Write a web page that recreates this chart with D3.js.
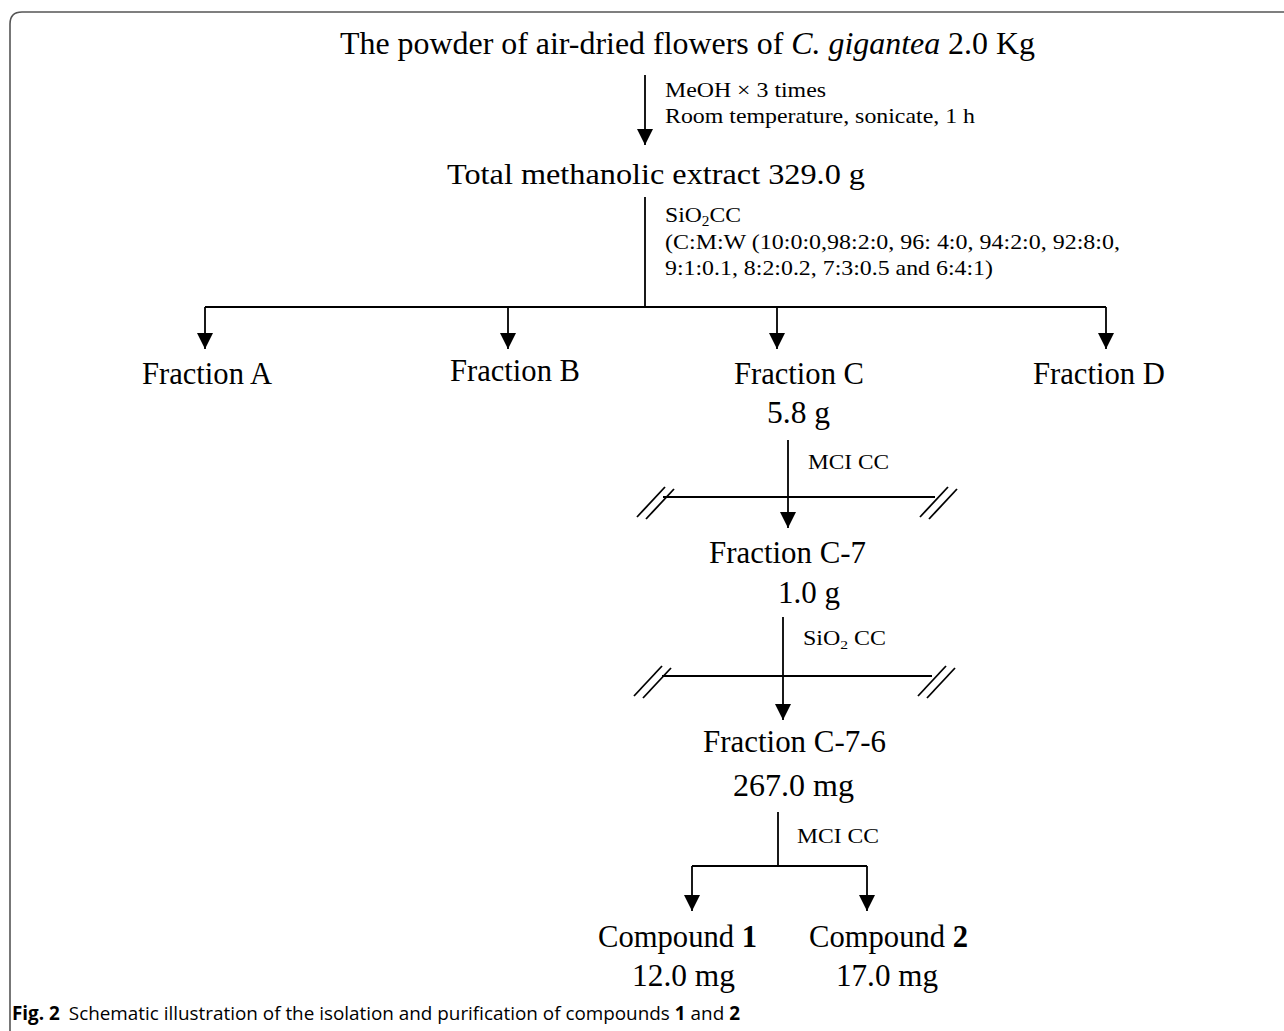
<!DOCTYPE html>
<html><head><meta charset="utf-8">
<script src="https://cdn.jsdelivr.net/npm/d3@7"></script>
<style>html,body{margin:0;padding:0;background:#fff;}</style>
</head><body>
<svg id="c" width="1284" height="1031"></svg>
<script>
// ---- content (labels) ----
const title = [{t:"The powder of air-dried flowers of "},{t:"C. gigantea",i:true},{t:" 2.0 Kg"}];
const step1 = ["MeOH × 3 times","Room temperature, sonicate, 1 h"];
const extract = "Total methanolic extract 329.0 g";
const step2 = ["SiO|2|CC","(C:M:W (10:0:0,98:2:0, 96: 4:0, 94:2:0, 92:8:0,","9:1:0.1, 8:2:0.2, 7:3:0.5 and 6:4:1)"];
const fractions = ["Fraction A","Fraction B","Fraction C","Fraction D"];
const fractionCMass = "5.8 g";
const step3 = "MCI CC";
const fracC7 = ["Fraction C-7","1.0 g"];
const step4 = "SiO|2| CC";
const fracC76 = ["Fraction C-7-6","267.0 mg"];
const step5 = "MCI CC";
const compounds = ["1","2"];
const compoundMass = ["12.0 mg","17.0 mg"];
const caption = [{t:"Fig. 2",b:true,gap:9},{t:"Schematic illustration of the isolation and purification of compounds",gap:5},{t:"1",b:true,gap:5},{t:"and",gap:5},{t:"2",b:true}];

// ---- layout ----
const svg = d3.select("#c");
const serif = "Liberation Serif, Tinos, Times New Roman, Times, serif";
const sans = "Open Sans, Noto Sans, sans-serif";

svg.append("defs").append("marker").attr("id","ah").attr("viewBox","0 0 10 10")
  .attr("refX",10).attr("refY",5).attr("markerWidth",16).attr("markerHeight",16)
  .attr("markerUnits","userSpaceOnUse").attr("orient","auto")
  .append("path").attr("d","M0,0L10,5L0,10Z").attr("fill","#000");

// frame
svg.append("path").attr("d","M10,1031 L10,24 Q10,12 22,12 L1284,12")
  .attr("fill","none").attr("stroke","#555").attr("stroke-width",1.6);

const line = d3.line();
function seg(pts, arrow){
  const p = svg.append("path").attr("d",line(pts)).attr("fill","none")
    .attr("stroke","#000").attr("stroke-width",1.8);
  if(arrow) p.attr("marker-end","url(#ah)");
  return p;
}
function text(x,y,size,len,parts,opts={}){
  const t = svg.append("text").attr("x",x).attr("y",y)
    .style("font-family",opts.family||serif).attr("font-size",size).attr("fill","#000");
  if(len){t.attr("textLength",len).attr("lengthAdjust","spacingAndGlyphs");}
  if(typeof parts==="string"){
    if(parts.includes("|")){
      const s = parts.split("|");
      t.append("tspan").text(s[0]);
      t.append("tspan").attr("font-size",size*0.65).attr("dy",size*0.2).text(s[1]);
      t.append("tspan").attr("dy",-size*0.2).text(s[2]);
    } else t.text(parts);
  } else {
    parts.forEach(p=>{
      const sp=t.append("tspan").text(p.t);
      if(p.i) sp.attr("font-style","italic");
      if(p.b) sp.attr("font-weight","bold");
    });
  }
  return t;
}
function slashes(x,y){
  seg([[x-16,y+20],[x+12,y-10]]);
  seg([[x-7,y+22],[x+21,y-8]]);
}

// title
text(340,54,31,695,title);
// step 1
seg([[645,75],[645,145]],true);
text(665,97,21,161,step1[0]);
text(665,123,21,310,step1[1]);
// extract
text(447,184,30,418,extract);
// step 2
seg([[645,197],[645,307]]);
text(665,222,22,76,step2[0]);
text(665,249,22,455,step2[1]);
text(665,275,22,328,step2[2]);
// branch to fractions
const fx = [205,508,777,1106];
seg([[fx[0],307],[fx[3],307]]);
fx.forEach(x=>seg([[x,307],[x,349]],true));
const fl = [[142,384,130],[450,381,130],[734,384,130],[1033,384,132]];
fractions.forEach((f,i)=>text(fl[i][0],fl[i][1],31,fl[i][2],f));
text(767,423,31,63,fractionCMass);
// step 3
seg([[788,440],[788,528]],true);
text(808,469,20,81,step3);
seg([[663,497],[935,497]]);
slashes(653,497); slashes(936,497);
text(709,563,31,157,fracC7[0]);
text(778,603,31,62,fracC7[1]);
// step 4
seg([[783,617],[783,720]],true);
text(803,645,20,83,step4);
seg([[662,676],[932,676]]);
slashes(650,676); slashes(934,676);
text(703,752,31,183,fracC76[0]);
text(733,796,31,121,fracC76[1]);
// step 5
seg([[778,812],[778,866]]);
text(797,843,20,82,step5);
const cx = [692,867];
seg([[cx[0],866],[cx[1],866]]);
cx.forEach(x=>seg([[x,866],[x,911]],true));
const cl = [[598,159],[809,159]];
compounds.forEach((c,i)=>text(cl[i][0],947,31,cl[i][1],[{t:"Compound "},{t:c,b:true}]));
const ml = [[632,103],[836,102]];
compoundMass.forEach((m,i)=>text(ml[i][0],986,31,ml[i][1],m));

// caption: separate pieces, measured then fitted into 12..740
const capSize = 19, capX0 = 12, capX1 = 740;
const pieces = caption.map(p=>{
  const t = svg.append("text").attr("y",1020).style("font-family",sans)
    .attr("font-size",capSize).attr("fill","#000").attr("font-weight",p.b?"bold":"normal").text(p.t);
  return {t, w:t.node().getComputedTextLength(), gap:p.gap||0};
});
const gapTot = d3.sum(pieces,p=>p.gap);
const k = (capX1-capX0-gapTot)/d3.sum(pieces,p=>p.w);
let cxp = capX0;
pieces.forEach(p=>{
  const w = p.w*k;
  p.t.attr("x",cxp).attr("textLength",w).attr("lengthAdjust","spacingAndGlyphs");
  cxp += w + p.gap;
});
</script>
</body></html>
